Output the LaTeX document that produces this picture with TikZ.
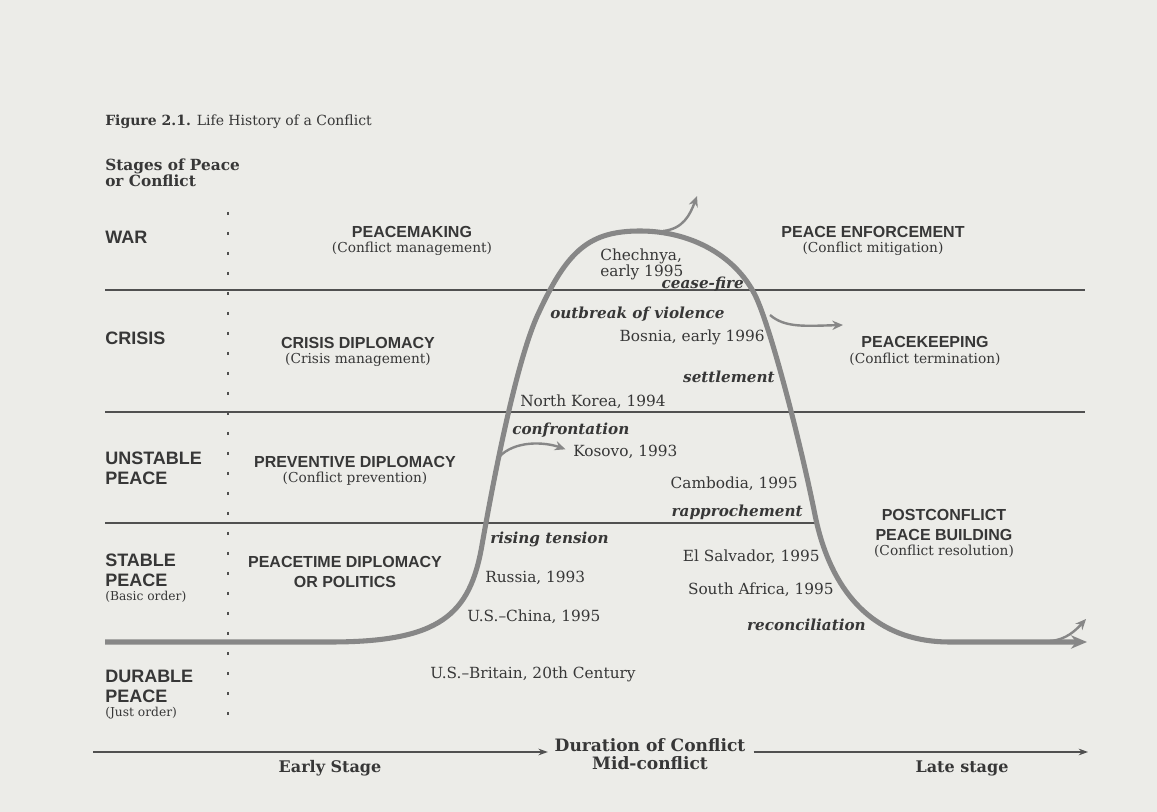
\documentclass[tikz,border=0pt]{standalone}
\usepackage{fontspec}
\setmainfont{DejaVu Serif}
\setsansfont{Liberation Sans}
\usetikzlibrary{positioning,arrows.meta}
\definecolor{paper}{RGB}{236,236,232}
\definecolor{ink}{RGB}{55,55,55}
\definecolor{trail}{RGB}{135,135,135}
\definecolor{rule}{RGB}{80,80,80}

\begin{document}
\begin{tikzpicture}
[x=0.75pt, y=-0.75pt,
every node/.style={inner sep=0pt, text=ink},
stage/.style={font=\sffamily\bfseries\fontsize{13.5}{15}\selectfont, anchor=west, align=left},
order/.style={font=\fontsize{9.2}{10}\selectfont},
policy/.style={font=\sffamily\bfseries\fontsize{12}{15}\selectfont, align=center},
gloss/.style={font=\fontsize{10.3}{12}\selectfont},
instance/.style={font=\fontsize{11.5}{12}\selectfont, align=left},
phase/.style={font=\bfseries\itshape\fontsize{11.4}{13}\selectfont},
timelabel/.style={font=\bfseries\fontsize{12}{13}\selectfont},
divider/.style={draw=rule, line width=1.1pt},
history/.style={draw=trail, line width=3.8pt, -{Stealth[length=12pt,width=10pt]}},
jump/.style={draw=trail, line width=1.8pt, -{Stealth[length=8pt,width=7pt]}},
timeline/.style={draw=rule, line width=0.9pt, -{Stealth[length=7pt,width=5pt]}},
]

\fill[paper] (0,0) rectangle (1157,812);
\useasboundingbox (0,0) rectangle (1157,812);

\node[anchor=west, font=\fontsize{10.5}{13}\selectfont] (title) at (105,122) {\textbf{Figure 2.1.} Life History of a Conflict};
\node[anchor=west, align=left, font=\bfseries\fontsize{11.5}{12}\selectfont] (heading) at (105,173) {Stages of Peace\\or Conflict};

\draw[divider] (105,290) -- (1085,290);
\draw[divider] (105,412) -- (1085,412);
\draw[divider] (105,523) -- (818,523);
\draw[rule, line width=1.5pt, dash pattern=on 2.5pt off 12.5pt] (228,212) -- (228,716);

\node[stage] (war) at (105,237) {WAR};
\node[stage] (crisis) at (105,338) {CRISIS};
\node[stage] (unstable) at (105,468) {UNSTABLE\\PEACE};
\node[stage] (stable) at (105,570) {STABLE\\PEACE};
\node[order, below right=3pt and 0pt of stable.south west] (basicorder) {(Basic order)};
\node[stage] (durable) at (105,686) {DURABLE\\PEACE};
\node[order, below right=3pt and 0pt of durable.south west] (justorder) {(Just order)};

\node[policy] (pm) at (412,232) {PEACEMAKING};
\node[gloss, below=3pt of pm] (pmnote) {(Conflict management)};
\node[policy] (cd) at (358,343) {CRISIS DIPLOMACY};
\node[gloss, below=3pt of cd] (cdnote) {(Crisis management)};
\node[policy] (pd) at (355,462) {PREVENTIVE DIPLOMACY};
\node[gloss, below=3pt of pd] (pdnote) {(Conflict prevention)};
\node[policy] (ptd) at (345,572) {PEACETIME DIPLOMACY\\OR POLITICS};
\node[policy] (pe) at (873,232) {PEACE ENFORCEMENT};
\node[gloss, below=3pt of pe] (penote) {(Conflict mitigation)};
\node[policy] (pk) at (925,342) {PEACEKEEPING};
\node[gloss, below=4pt of pk] (pknote) {(Conflict termination)};
\node[policy] (pcb) at (944,525) {POSTCONFLICT\\PEACE BUILDING};
\node[gloss, below=3pt of pcb] (pcbnote) {(Conflict resolution)};

\draw[history] (105,642) -- (330,642)
  .. controls (440,642) and (470,615) .. (482,545)
  .. controls (490,500) and (515,360) .. (540,310)
  .. controls (568,250) and (590,231) .. (640,231)
  .. controls (690,231) and (735,255) .. (755,295)
  .. controls (770,325) and (800,440) .. (815,515)
  .. controls (825,565) and (855,642) .. (950,642) -- (1087,642);

\node[instance, anchor=west] (chechnya) at (600,264) {Chechnya,\\early 1995};
\node[instance, anchor=east] (bosnia) at (765,337) {Bosnia, early 1996};
\node[instance, anchor=west] (korea) at (520,402) {North Korea, 1994};
\node[instance, anchor=west] (kosovo) at (573,452) {Kosovo, 1993};
\node[instance, anchor=east] (cambodia) at (798,484) {Cambodia, 1995};
\node[instance, anchor=east] (salvador) at (820,557) {El Salvador, 1995};
\node[instance, anchor=east] (safrica) at (834,590) {South Africa, 1995};
\node[instance, anchor=west] (russia) at (485,578) {Russia, 1993};
\node[instance, anchor=west] (uschina) at (467,617) {U.S.--China, 1995};
\node[instance, anchor=west] (usbritain) at (430,674) {U.S.--Britain, 20th Century};

\node[phase, anchor=east] (ceasefire) at (744,284) {cease-fire};
\node[phase, anchor=west] (outbreak) at (550,314) {outbreak of violence};
\node[phase, anchor=east] (settlement) at (775,377) {settlement};
\node[phase, anchor=west] (confrontation) at (512,430) {confrontation};
\node[phase, anchor=east] (rapprochement) at (803,512) {rapprochement};
\node[phase, anchor=west] (tension) at (490,539) {rising tension};
\node[phase, anchor=east] (reconciliation) at (866,625) {reconciliation};

\coordinate (warexit) at (663,231);
\coordinate (wartip) at (697,196);
\coordinate (crisisexit) at (770,315);
\coordinate (crisistip) at (843,325);
\coordinate (tensionexit) at (499,457);
\coordinate (lateexit) at (1050,641);
\coordinate (latetip) at (1086,619);
\draw[jump] (warexit) .. controls (683,229) and (690,215) .. (wartip);
\draw[jump] (crisisexit) .. controls (785,328) and (805,326) .. (crisistip);
\draw[jump, shorten >=6pt] (tensionexit) .. controls (515,440) and (545,442) .. (kosovo.west);
\draw[jump] (lateexit) .. controls (1066,640) and (1076,630) .. (latetip);

\node[timelabel, font=\bfseries\fontsize{12.8}{14}\selectfont] (duration) at (650,745) {Duration of Conflict};
\node[timelabel, font=\bfseries\fontsize{12.8}{14}\selectfont, below=3pt of duration] (mid) {Mid-conflict};
\node[timelabel] (early) at (330,768) {Early Stage};
\node[timelabel] (late) at (962,768) {Late stage};
\coordinate (axstart) at (93,752);
\coordinate (axend) at (1088,752);
\draw[timeline, shorten >=5pt] (axstart) -- (axstart -| duration.west);
\draw[timeline, shorten <=6pt] (axstart -| duration.east) -- (axend);
\end{tikzpicture}
\end{document}
